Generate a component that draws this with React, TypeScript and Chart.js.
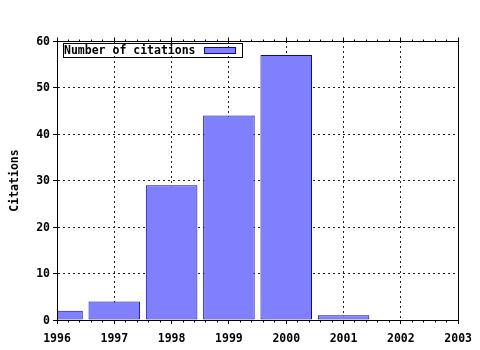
import React, { useEffect, useRef } from "react";
import { Chart, registerables } from "chart.js";

Chart.register(...registerables);

const years = [1996, 1997, 1998, 1999, 2000, 2001, 2002, 2003];
const citations = [2, 4, 29, 44, 57, 1, 0, 0];
const seriesLabel = "Number of citations";
const yTitle = "Citations";
const xMin = 1996;
const xMax = 2003;
const yMin = 0;
const yMax = 60;
const yStep = 10;
const minorPerMajor = 5;

const FONT = "'DejaVu Sans Mono', monospace";
const BAR_FILL = "#8080ff";
const BAR_EDGE = "#0a0a9a";

const pix = (v: number) => Math.floor(v) + 0.5;

const framePlugin = {
  id: "frame",
  afterDraw(chart: any) {
    const { ctx, chartArea: a, scales } = chart;
    const xs = scales.x;
    ctx.save();
    ctx.strokeStyle = "#000";
    ctx.lineWidth = 1;
    ctx.setLineDash([]);
    const L = pix(a.left), R = pix(a.right), T = pix(a.top), B = pix(a.bottom);
    ctx.strokeRect(L, T, R - L, B - T);
    ctx.beginPath();
    for (let yr = xMin; yr <= xMax; yr++) {
      const px = pix(xs.getPixelForValue(yr));
      ctx.moveTo(px, T);
      ctx.lineTo(px, T - 4);
      if (yr < xMax) {
        for (let k = 1; k < minorPerMajor; k++) {
          const mx = pix(xs.getPixelForValue(yr + k / minorPerMajor));
          ctx.moveTo(mx, T);
          ctx.lineTo(mx, T - 2);
          ctx.moveTo(mx, B);
          ctx.lineTo(mx, B + 2);
        }
      }
    }
    ctx.stroke();

    // legend
    const ds = chart.data.datasets[0];
    const bx = Math.round(a.left) + 6;
    const by = Math.round(a.top) + 2;
    const bw = 179;
    const bh = 14;
    ctx.strokeRect(bx + 0.5, by + 0.5, bw, bh);
    ctx.font = `bold 11.5px ${FONT}`;
    ctx.fillStyle = "#000";
    ctx.textBaseline = "middle";
    ctx.textAlign = "left";
    ctx.fillText(ds.label, bx + 1, by + bh / 2 + 1);
    ctx.fillStyle = BAR_FILL;
    ctx.fillRect(bx + 141, by + 4, 31, 6);
    ctx.strokeStyle = BAR_EDGE;
    ctx.strokeRect(bx + 141 + 0.5, by + 4 + 0.5, 31, 6);
    ctx.restore();
  },
};

export default function App() {
  const ref = useRef<HTMLCanvasElement | null>(null);
  useEffect(() => {
    if (!ref.current) return;
    const font = { family: FONT, size: 11.5, weight: "bold" as const };
    const chart = new Chart(ref.current, {
      type: "bar",
      data: {
        datasets: [
          {
            label: seriesLabel,
            data: years.map((y, i) => ({ x: y, y: citations[i] })),
            backgroundColor: BAR_FILL,
            borderColor: BAR_EDGE,
            borderWidth: 1,
            borderSkipped: false,
            barPercentage: 0.9,
            categoryPercentage: 1,
            clip: 0,
          } as any,
        ],
      },
      options: {
        responsive: false,
        animation: false,
        layout: { padding: { top: 41, right: 21, left: 0, bottom: 0 } },
        plugins: {
          legend: { display: false },
          tooltip: { enabled: false },
          title: { display: false },
        },
        scales: {
          x: {
            type: "linear",
            min: xMin,
            max: xMax,
            offset: false,
            afterFit: (s: any) => {
              s.height = 30;
            },
            ticks: {
              stepSize: 1,
              color: "#000",
              font,
              padding: 8,
              maxRotation: 0,
              callback: (v: any) => String(v),
            },
            grid: {
              offset: false,
              color: "#222",
              lineWidth: 1,
              tickLength: 4,
              tickColor: "#000",
              drawOnChartArea: true,
            },
            border: { display: true, color: "#000", dash: [2, 3] },
          },
          y: {
            type: "linear",
            min: yMin,
            max: yMax,
            afterFit: (s: any) => {
              s.width = 57;
            },
            ticks: { stepSize: yStep, color: "#000", font, padding: 3, labelOffset: 1 } as any,
            grid: {
              color: "#222",
              lineWidth: 1,
              tickLength: 4,
              tickColor: "#000",
            },
            border: { display: true, color: "#000", dash: [2, 3] },
            title: {
              display: true,
              text: yTitle,
              color: "#000",
              font,
              padding: { top: 8, bottom: 0 },
            },
          },
        },
      },
      plugins: [framePlugin],
    });
    return () => chart.destroy();
  }, []);
  return (
    <div style={{ position: "absolute", left: 0, top: 0, width: 480, height: 350, background: "#fff" }}>
      <canvas ref={ref} width={480} height={350} />
    </div>
  );
}
